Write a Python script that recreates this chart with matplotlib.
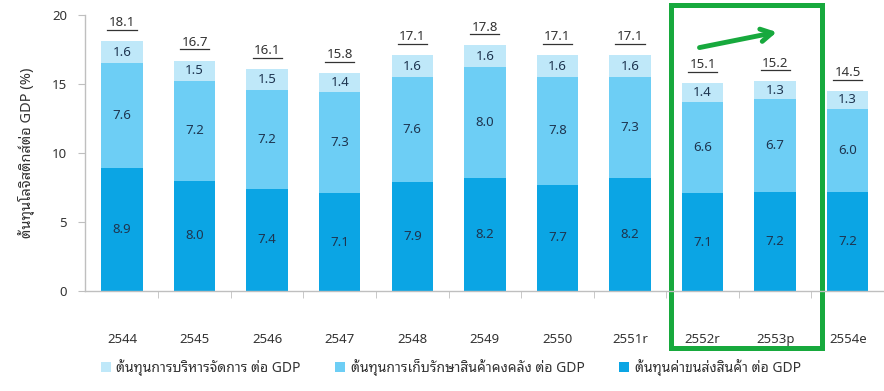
import matplotlib
matplotlib.use("Agg")
import matplotlib.pyplot as plt
from matplotlib.patches import Rectangle
import numpy as np

plt.rcParams['font.family'] = ['Noto Sans Thai Looped', 'Noto Sans', 'DejaVu Sans']

years = ['2544', '2545', '2546', '2547', '2548', '2549', '2550', '2551r', '2552r', '2553p', '2554e']
transport = [8.9, 8.0, 7.4, 7.1, 7.9, 8.2, 7.7, 8.2, 7.1, 7.2, 7.2]
inventory = [7.6, 7.2, 7.2, 7.3, 7.6, 8.0, 7.8, 7.3, 6.6, 6.7, 6.0]
admin = [1.6, 1.5, 1.5, 1.4, 1.6, 1.6, 1.6, 1.6, 1.4, 1.3, 1.3]
totals = [18.1, 16.7, 16.1, 15.8, 17.1, 17.8, 17.1, 17.1, 15.1, 15.2, 14.5]

lbl_admin = 'ต้นทุนการบริหารจัดการ ต่อ GDP'
lbl_inventory = 'ต้นทุนการเก็บรักษาสินค้าคงคลัง ต่อ GDP'
lbl_transport = 'ต้นทุนค่าขนส่งสินค้า ต่อ GDP'
ylabel = 'ต้นทุนโลจิสติกส์ต่อ GDP (%)'

c_dark = '#0BA5E4'
c_mid = '#6DCEF5'
c_light = '#BFE8F9'
c_text = '#1E3550'
green = '#17A93D'

fig = plt.figure(figsize=(8.84, 3.91), dpi=100)
ax = fig.add_axes([85 / 884, 100 / 391, 799 / 884, 276 / 391])

x = np.arange(len(years))
w = 0.57
b1 = ax.bar(x, transport, w, color=c_dark, label=lbl_transport)
b2 = ax.bar(x, inventory, w, bottom=transport, color=c_mid, label=lbl_inventory)
base3 = np.array(transport) + np.array(inventory)
b3 = ax.bar(x, admin, w, bottom=base3, color=c_light, label=lbl_admin)

for i in x:
    ax.text(i, transport[i] / 2, f'{transport[i]:.1f}', ha='center', va='center',
            fontsize=9.5, color=c_text)
    ax.text(i, transport[i] + inventory[i] / 2, f'{inventory[i]:.1f}', ha='center',
            va='center', fontsize=9.5, color=c_text)
    ax.text(i, base3[i] + admin[i] / 2, f'{admin[i]:.1f}', ha='center', va='center',
            fontsize=9.5, color=c_text)
    # underlined total above each bar
    ax.text(i, totals[i] + 0.85, f'{totals[i]:.1f}', ha='center', va='bottom',
            fontsize=9.5, color='#333333')
    ax.plot([i - 0.2, i + 0.2], [totals[i] + 0.8] * 2, color='#333333', lw=0.9)

ax.set_xlim(-0.51, 10.5)
ax.set_ylim(0, 20)
ax.set_yticks([0, 5, 10, 15, 20])
ax.tick_params(axis='y', length=5, color='#BFBFBF', labelsize=9.5,
               labelcolor='#333333', pad=8)
ax.set_xticks(x)
ax.set_xticklabels(years)
ax.tick_params(axis='x', length=0, labelsize=9.5, labelcolor='#333333', pad=30)
ax.set_xticks(x[:-1] + 0.5, minor=True)
ax.tick_params(axis='x', which='minor', length=5, color='#BFBFBF')
for s in ['top', 'right']:
    ax.spines[s].set_visible(False)
for s in ['left', 'bottom']:
    ax.spines[s].set_color('#BFBFBF')
    ax.spines[s].set_linewidth(1.0)
ax.set_ylabel(ylabel, fontsize=10.5, color='#333333', labelpad=12)

# highlight box around 2552r-2553p with an upward arrow
box = Rectangle((8 - 0.44, -4.13), 2.08, 24.85, fill=False, ec=green, lw=3.6,
                clip_on=False)
ax.add_patch(box)
ax.annotate('', xy=(9.06, 18.8), xytext=(7.92, 17.6),
            arrowprops=dict(arrowstyle='->,head_length=0.8,head_width=0.45',
                            color=green, lw=3.5), annotation_clip=False)

fig.legend(handles=[b3, b2, b1], loc='center', bbox_to_anchor=(0.51, 0.061),
           ncol=3, frameon=False, handlelength=0.7, handleheight=0.7,
           handletextpad=0.4, columnspacing=2.5, labelcolor='#333333',
           fontsize=10)

fig.savefig('out.png', dpi=100)
